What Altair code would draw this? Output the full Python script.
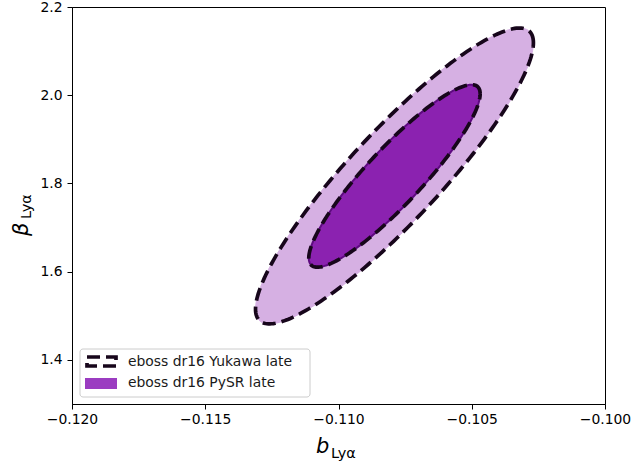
import numpy as np
import pandas as pd
import altair as alt

# Gaussian posterior summary for (b_Lya, beta_Lya), eBOSS DR16 late-time fits
mean_b = -0.1079
mean_beta = 1.817
sigma_b = 0.00213
sigma_beta = 0.137
rho = 0.90

# confidence levels of the 2D contours
levels = [0.68, 0.95]
n_pts = 240


def contour(p):
    k = np.sqrt(-2.0 * np.log(1.0 - p))
    t = np.linspace(0.0, 2.0 * np.pi, n_pts)
    b = mean_b + k * sigma_b * np.cos(t)
    beta = mean_beta + k * sigma_beta * (rho * np.cos(t) + np.sqrt(1 - rho ** 2) * np.sin(t))
    return pd.DataFrame({"b": b, "beta": beta, "t": np.arange(n_pts), "level": p})


inner = contour(levels[0])
outer = contour(levels[1])

x_ticks = [-0.120, -0.115, -0.110, -0.105, -0.100]
y_ticks = [1.4, 1.6, 1.8, 2.0, 2.2]

xs = alt.X("b:Q", scale=alt.Scale(domain=[-0.120, -0.100], nice=False, zero=False),
           axis=alt.Axis(values=x_ticks, format=".3f", title=None, labelFlush=False, labelOverlap=False))
ys = alt.Y("beta:Q", scale=alt.Scale(domain=[1.3, 2.2], nice=False, zero=False),
           axis=alt.Axis(values=y_ticks, format=".1f", title=None, labelFlush=False, labelOverlap=False))
order = alt.Order("t:Q")

LIGHT = "#d6b0e3"
DARK = "#8b22b0"
EDGE = "#5e0a80"
DASH = "#17061b"

pysr_outer = alt.Chart(outer).mark_line(fill=LIGHT, stroke=LIGHT, strokeWidth=1).encode(x=xs, y=ys, order=order)
pysr_inner = alt.Chart(inner).mark_line(fill=DARK, stroke=EDGE, strokeWidth=2).encode(x=xs, y=ys, order=order)
yuk_outer = alt.Chart(outer).mark_line(stroke=DASH, strokeWidth=3.7, strokeDash=[13, 6]).encode(x=xs, y=ys, order=order)
yuk_inner = alt.Chart(inner).mark_line(stroke=DASH, strokeWidth=3.7, strokeDash=[13, 6]).encode(x=xs, y=ys, order=order)

# axis titles with subscripts
one = pd.DataFrame({"k": [0]})
FONT = "DejaVu Sans"
xt_main = alt.Chart(one).mark_text(text="b", font=FONT, fontSize=21, fontStyle="italic",
                                   align="left", baseline="alphabetic").encode(x=alt.value(244), y=alt.value(446))
xt_sub = alt.Chart(one).mark_text(text="Lyα", font=FONT, fontSize=14.5,
                                  align="left", baseline="alphabetic").encode(x=alt.value(259), y=alt.value(451))
yt_main = alt.Chart(one).mark_text(text="β", font=FONT, fontSize=21, fontStyle="italic", angle=270,
                                   align="left", baseline="alphabetic").encode(x=alt.value(-44), y=alt.value(229))
yt_sub = alt.Chart(one).mark_text(text="Lyα", font=FONT, fontSize=14.5, angle=270,
                                  align="left", baseline="alphabetic").encode(x=alt.value(-41), y=alt.value(212))

# legend
leg_box = alt.Chart(one).mark_rect(fill="white", fillOpacity=0.8, stroke="#cccccc", strokeWidth=1,
                                   cornerRadius=3).encode(
    x=alt.value(8), x2=alt.value(238), y=alt.value(342), y2=alt.value(390))
leg_yuk = alt.Chart(one).mark_rect(fillOpacity=0, stroke=DASH, strokeWidth=3.7, strokeDash=[13, 6]).encode(
    x=alt.value(15), x2=alt.value(44), y=alt.value(350), y2=alt.value(359))
leg_pysr = alt.Chart(one).mark_rect(fill="#9b3cc1").encode(
    x=alt.value(13), x2=alt.value(45), y=alt.value(371), y2=alt.value(382))
labels = ["eboss dr16 Yukawa late", "eboss dr16 PySR late"]
leg_t1 = alt.Chart(one).mark_text(text=labels[0], font=FONT, fontSize=13.9, align="left",
                                  baseline="middle", color="#1a1a1a").encode(x=alt.value(56), y=alt.value(355))
leg_t2 = alt.Chart(one).mark_text(text=labels[1], font=FONT, fontSize=13.9, align="left",
                                  baseline="middle", color="#1a1a1a").encode(x=alt.value(56), y=alt.value(376))

chart = alt.layer(
    pysr_outer, pysr_inner, yuk_outer, yuk_inner,
    xt_main, xt_sub, yt_main, yt_sub,
    leg_box, leg_yuk, leg_pysr, leg_t1, leg_t2,
).properties(
    width=533, height=397,
    autosize=alt.AutoSizeParams(type="none"),
    padding={"left": 72, "top": 7, "right": 29, "bottom": 60},
    background="white",
).configure_view(
    stroke="black", strokeWidth=1
).configure_axis(
    grid=False, domainColor="black", tickColor="black", tickSize=5, tickWidth=1,
    labelFont=FONT, labelFontSize=13.9, labelColor="black", domainWidth=1,
).configure_axisX(labelPadding=3).configure_axisY(labelPadding=5)

chart.save("out.html", embed_options={"renderer": "svg", "actions": False})
